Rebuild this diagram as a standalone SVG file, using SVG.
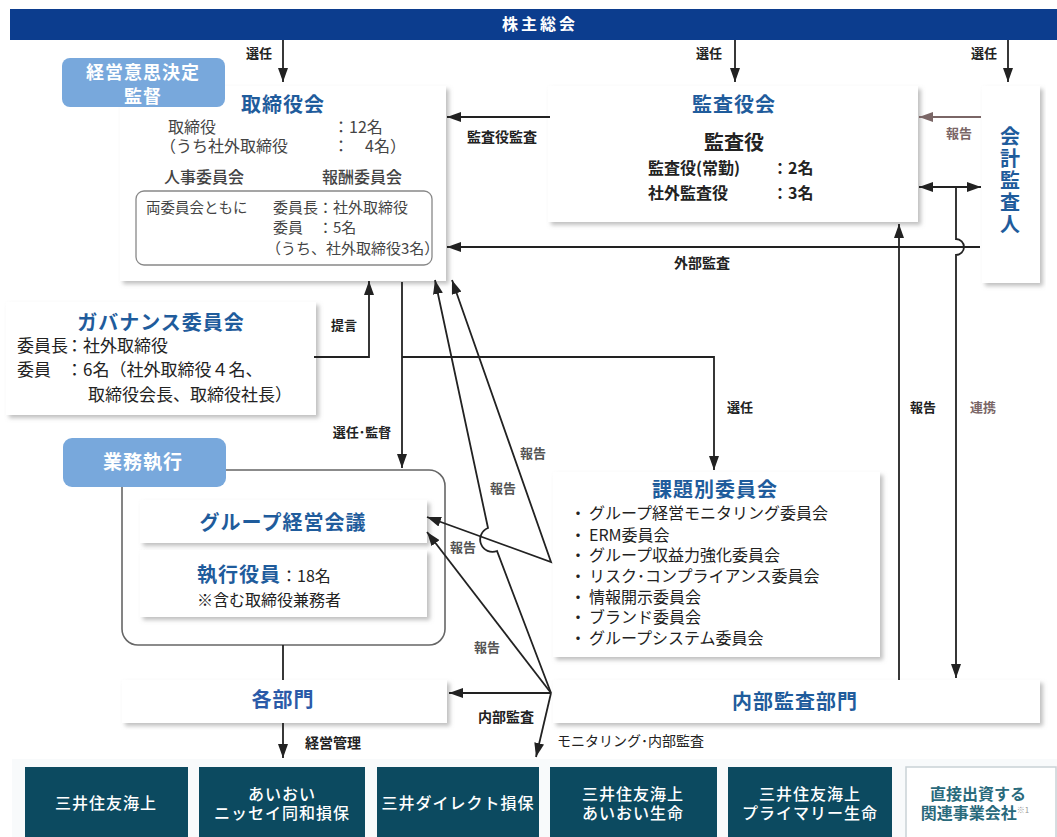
<svg xmlns="http://www.w3.org/2000/svg" width="1057" height="837" viewBox="0 0 1057 837">
<style>
text{font-family:"Noto Sans CJK JP","Noto Sans",sans-serif}
.ttl{font-size:20px;font-weight:700;fill:#1f5c9c;letter-spacing:1px}
.b{font-size:16px;fill:#444}
.bk{font-size:16px;fill:#222;font-weight:700}
.lbl{font-size:13px;font-weight:700;fill:#222}
.lb2{font-size:14px;font-weight:700;fill:#222}
.rep{font-size:13px;fill:#555;font-weight:700}
.gry{font-size:13px;font-weight:700;fill:#7a6666}
.it{font-size:16px;fill:#222}
.tag{fill:#78a8dc}
.tagt{font-size:18px;font-weight:700;fill:#fff;letter-spacing:1px}
.pan{fill:#fff;filter:url(#sh)}
.co{fill:#0c4a60}
.cot{font-size:16px;fill:#fff;font-weight:500;letter-spacing:1px}
.ln{fill:none;stroke:#222;stroke-width:1.8}
</style>
<defs>
<filter id="sh" x="-5%" y="-5%" width="115%" height="120%">
<feDropShadow dx="3" dy="3" stdDeviation="2" flood-color="#8a8a8a" flood-opacity="0.55"/>
</filter>
<marker id="a" viewBox="0 0 14 10" refX="14" refY="5" markerWidth="14" markerHeight="10" markerUnits="userSpaceOnUse" orient="auto-start-reverse"><path d="M0,0L14,5L0,10z" fill="#222"/></marker>
<marker id="ag" viewBox="0 0 14 10" refX="14" refY="5" markerWidth="14" markerHeight="10" markerUnits="userSpaceOnUse" orient="auto-start-reverse"><path d="M0,0L14,5L0,10z" fill="#7a6666"/></marker>
</defs>
<rect width="1057" height="837" fill="#fff"/>

<g id="shareholders">
<rect x="10" y="9" width="1047" height="31" fill="#0c3d8e"/>
<text x="540" y="30" text-anchor="middle" style="font-size:16px;fill:#fff;font-weight:700;letter-spacing:3px">株主総会</text>
</g>

<g id="board">
<rect class="pan" x="120" y="86" width="326" height="195"/>
<text class="ttl" x="283" y="112" text-anchor="middle">取締役会</text>
<text class="b"><tspan x="168" y="133">取締役</tspan><tspan x="160" y="152">（うち社外取締役</tspan></text>
<text class="b"><tspan x="333" y="133">：12名</tspan><tspan x="333" y="152">：　4名）</tspan></text>
<text class="b" x="204" y="183" text-anchor="middle" style="font-weight:500">人事委員会</text>
<text class="b" x="362" y="183" text-anchor="middle" style="font-weight:500">報酬委員会</text>
<rect x="136" y="191" width="296" height="74" rx="8" fill="#fff" stroke="#888" stroke-width="1.3"/>
<text class="b" x="146" y="213" style="font-size:14.5px">両委員会ともに</text>
<text class="b" style="font-size:15px"><tspan x="273" y="213">委員長：社外取締役</tspan><tspan x="273" y="233">委員</tspan><tspan x="318" y="233">：5名</tspan><tspan x="266" y="254">（うち、社外取締役3名）</tspan></text>
</g>

<g id="tag-supervision">
<rect class="tag" x="62" y="58" width="163" height="49" rx="8"/>
<text class="tagt" text-anchor="middle"><tspan x="143" y="79">経営意思決定</tspan><tspan x="143" y="103">監督</tspan></text>
</g>

<g id="audit-board">
<rect class="pan" x="548" y="86" width="370" height="136"/>
<text class="ttl" x="734" y="112" text-anchor="middle">監査役会</text>
<text x="734" y="150" text-anchor="middle" style="font-size:20px;font-weight:700;fill:#222">監査役</text>
<text class="bk"><tspan x="648" y="174">監査役(常勤)</tspan><tspan x="772" y="174">：2名</tspan><tspan x="648" y="199">社外監査役</tspan><tspan x="772" y="199">：3名</tspan></text>
</g>

<g id="accounting-auditor">
<rect class="pan" x="982" y="86" width="58" height="197"/>
<text class="ttl" x="1010" y="126" style="writing-mode:vertical-rl;letter-spacing:2px">会計監査人</text>
</g>

<g id="governance">
<rect class="pan" x="6" y="302" width="310" height="113"/>
<text class="ttl" x="161" y="330" text-anchor="middle">ガバナンス委員会</text>
<text class="it" style="font-size:17px"><tspan x="17" y="352">委員長</tspan><tspan x="66" y="352">：社外取締役</tspan><tspan x="17" y="376">委員</tspan><tspan x="66" y="376">：6名（社外取締役４名、</tspan><tspan x="88" y="401">取締役会長、取締役社長）</tspan></text>
</g>

<g id="execution">
<rect x="122" y="470" width="323" height="175" rx="16" fill="#fff" stroke="#666" stroke-width="1.6"/>
<rect class="pan" x="140" y="500" width="287" height="43"/>
<text class="ttl" x="283" y="530" text-anchor="middle">グループ経営会議</text>
<rect class="pan" x="140" y="550" width="287" height="67"/>
<text class="ttl" x="197" y="582">執行役員</text>
<text class="it"><tspan x="281" y="582">：18名</tspan><tspan x="197" y="606">※含む取締役兼務者</tspan></text>
</g>

<g id="tag-execution">
<rect class="tag" x="63" y="438" width="163" height="49" rx="9"/>
<text class="tagt" x="143" y="469" text-anchor="middle" style="font-size:19px">業務執行</text>
</g>

<g id="committees">
<rect class="pan" x="553" y="472" width="327" height="185"/>
<text class="ttl" x="715" y="497" text-anchor="middle">課題別委員会</text>
<text class="it"><tspan x="570" y="519">・</tspan><tspan x="570" y="541">・</tspan><tspan x="570" y="561">・</tspan><tspan x="570" y="582">・</tspan><tspan x="570" y="603">・</tspan><tspan x="570" y="623">・</tspan><tspan x="570" y="644">・</tspan></text>
<text class="it"><tspan x="589" y="519">グループ経営モニタリング委員会</tspan><tspan x="589" y="541">ERM委員会</tspan><tspan x="589" y="561">グループ収益力強化委員会</tspan><tspan x="589" y="582">リスク･コンプライアンス委員会</tspan><tspan x="589" y="603">情報開示委員会</tspan><tspan x="589" y="623">ブランド委員会</tspan><tspan x="589" y="644">グループシステム委員会</tspan></text>
</g>

<g id="departments">
<rect class="pan" x="122" y="680" width="325" height="43"/>
<text class="ttl" x="283" y="707" text-anchor="middle" style="fill:#2a5aa8">各部門</text>
</g>

<g id="internal-audit">
<rect class="pan" x="553" y="680" width="487" height="43"/>
<text class="ttl" x="795" y="709" text-anchor="middle">内部監査部門</text>
</g>

<g id="companies">
<rect x="12" y="759" width="1045" height="78" fill="#f8fafb"/>
<g id="co1"><rect class="co" x="25" y="767" width="163" height="70"/>
<text class="cot" x="106" y="809" text-anchor="middle">三井住友海上</text></g>
<g id="co2"><rect class="co" x="199" y="767" width="166" height="70"/>
<text class="cot" text-anchor="middle"><tspan x="282" y="800">あいおい</tspan><tspan x="282" y="819">ニッセイ同和損保</tspan></text></g>
<g id="co3"><rect class="co" x="377" y="767" width="162" height="70"/>
<text class="cot" x="458" y="809" text-anchor="middle">三井ダイレクト損保</text></g>
<g id="co4"><rect class="co" x="550" y="767" width="167" height="70"/>
<text class="cot" text-anchor="middle"><tspan x="633" y="800">三井住友海上</tspan><tspan x="633" y="819">あいおい生命</tspan></text></g>
<g id="co5"><rect class="co" x="728" y="767" width="164" height="70"/>
<text class="cot" text-anchor="middle"><tspan x="810" y="800">三井住友海上</tspan><tspan x="810" y="819">プライマリー生命</tspan></text></g>
<g id="co6"><rect x="906" y="767" width="150" height="72" fill="#fff" stroke="#c9d2d6" stroke-width="1.5"/>
<text text-anchor="middle" style="font-size:16px;font-weight:700;fill:#2a6a7c"><tspan x="978" y="800">直接出資する</tspan><tspan x="975" y="819">関連事業会社</tspan><tspan style="font-size:8px;fill:#999;font-weight:400" dy="-6">※1</tspan></text></g>
</g>

<g id="connectors">
<path class="ln" d="M283,40V82" marker-end="url(#a)"/>
<path class="ln" d="M735,40V82" marker-end="url(#a)"/>
<path class="ln" d="M1008,40V82" marker-end="url(#a)"/>
<path class="ln" d="M550,117H447" marker-end="url(#a)"/>
<path class="ln" d="M981,117H919" style="stroke:#7a6666" marker-end="url(#ag)"/>
<path class="ln" d="M919,187H981" marker-start="url(#a)" marker-end="url(#a)"/>
<path class="ln" d="M956,187V239A8,8 0 0 1 956,255V678" marker-end="url(#a)"/>
<path class="ln" d="M980,247H447" marker-end="url(#a)"/>
<path class="ln" d="M899,680V224" marker-end="url(#a)"/>
<path class="ln" d="M314,357H369V281" marker-end="url(#a)"/>
<path class="ln" d="M402,282V468" marker-end="url(#a)"/>
<path class="ln" d="M402,357H714V470" marker-end="url(#a)"/>
<path class="ln" d="M452,280L551,562L427,517" marker-start="url(#a)" marker-end="url(#a)"/>
<path class="ln" d="M435,280L488,528A12,12 0 0 0 497,551L551,693" marker-start="url(#a)"/>
<path class="ln" d="M551,693L427,532" marker-end="url(#a)"/>
<path class="ln" d="M551,693H449" marker-end="url(#a)"/>
<path class="ln" d="M551,693L536,757" marker-end="url(#a)"/>
<path class="ln" d="M283,645V680"/>
<path class="ln" d="M283,723V758" marker-end="url(#a)"/>
<text class="lbl" x="259" y="58" text-anchor="middle">選任</text>
<text class="lbl" x="709" y="58" text-anchor="middle">選任</text>
<text class="lbl" x="984" y="58" text-anchor="middle">選任</text>
<text class="lb2" x="502" y="142" text-anchor="middle">監査役監査</text>
<text class="gry" x="959" y="138" text-anchor="middle">報告</text>
<text class="lb2" x="702" y="268" text-anchor="middle">外部監査</text>
<text class="lbl" x="344" y="330" text-anchor="middle">提言</text>
<text class="lbl" x="362" y="437" text-anchor="middle">選任･監督</text>
<text class="lbl" x="740" y="412" text-anchor="middle">選任</text>
<text class="lbl" x="923" y="412" text-anchor="middle">報告</text>
<text class="gry" x="983" y="412" text-anchor="middle">連携</text>
<text class="rep" x="533" y="458" text-anchor="middle">報告</text>
<text class="rep" x="503" y="493" text-anchor="middle">報告</text>
<text class="rep" x="463" y="552" text-anchor="middle">報告</text>
<text class="rep" x="487" y="652" text-anchor="middle">報告</text>
<text class="lb2" x="506" y="722" text-anchor="middle">内部監査</text>
<text class="lb2" x="305" y="748">経営管理</text>
<text x="557" y="746" style="font-size:14px;fill:#222">モニタリング･内部監査</text>
</g>
</svg>
